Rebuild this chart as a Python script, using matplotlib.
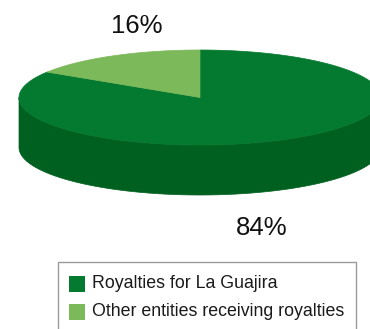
import numpy as np
import matplotlib.pyplot as plt
from matplotlib.patches import Polygon, Rectangle

plt.rcParams['font.family'] = ['Liberation Sans', 'DejaVu Sans']

labels = ['Royalties for La Guajira', 'Other entities receiving royalties']
shares = [84, 16]
top_colors = ['#037a2f', '#7cb95a']
side_colors = ['#00601f', '#5e9a40']

# pie geometry in pixel units
cx, cy = 200, 97.5
rx, ry = 181, 47.5
depth = 50


def ellipse_pts(a0, a1, n=200):
    t = np.radians(np.linspace(a0, a1, n))
    return cx + rx * np.cos(t), cy - ry * np.sin(t)


fig = plt.figure(figsize=(3.70, 3.29), dpi=100)
ax = fig.add_axes([0, 0, 1, 1])
ax.set_xlim(0, 370)
ax.set_ylim(329, 0)
ax.axis('off')

# wedge angle ranges: the small slice runs counter-clockwise from 12 o'clock,
# the large one takes the rest
fracs = np.array(shares, dtype=float) / sum(shares)
small_end = 90 + fracs[1] * 360
ranges = [(small_end, 450), (90, small_end)]

# side walls (front half only, 180..360 degrees)
for (a0, a1), col in zip(ranges, side_colors):
    for off in (0, 360):
        lo = max(a0, 180 + off)
        hi = min(a1, 360 + off)
        if hi > lo:
            xs, ys = ellipse_pts(lo, hi)
            pts = np.concatenate([np.column_stack([xs, ys]),
                                  np.column_stack([xs[::-1], ys[::-1] + depth])])
            ax.add_patch(Polygon(pts, closed=True, fc=col, ec=col, lw=0.5))

# top faces
for (a0, a1), col in zip(ranges, top_colors):
    xs, ys = ellipse_pts(a0, a1)
    pts = np.column_stack([np.r_[cx, xs], np.r_[cy, ys]])
    ax.add_patch(Polygon(pts, closed=True, fc=col, ec=col, lw=0.5))

# percentage labels
ax.text(137, 26, f'{shares[1]}%', fontsize=18.5, ha='center', va='center', color='#111111')
ax.text(262, 228, f'{shares[0]}%', fontsize=18.5, ha='center', va='center', color='#111111')

# legend box
ax.add_patch(Rectangle((57.5, 262), 298.5, 80, fc='white', ec='#9a9a9a', lw=1))
for i, (lab, col) in enumerate(zip(labels, top_colors)):
    y = 284 + i * 28
    ax.add_patch(Rectangle((69, y - 8), 16, 16, fc=col, ec='none'))
    ax.text(92, y, lab, fontsize=12.8, ha='left', va='center', color='#1a1a1a')

fig.savefig('out.png', dpi=100)
